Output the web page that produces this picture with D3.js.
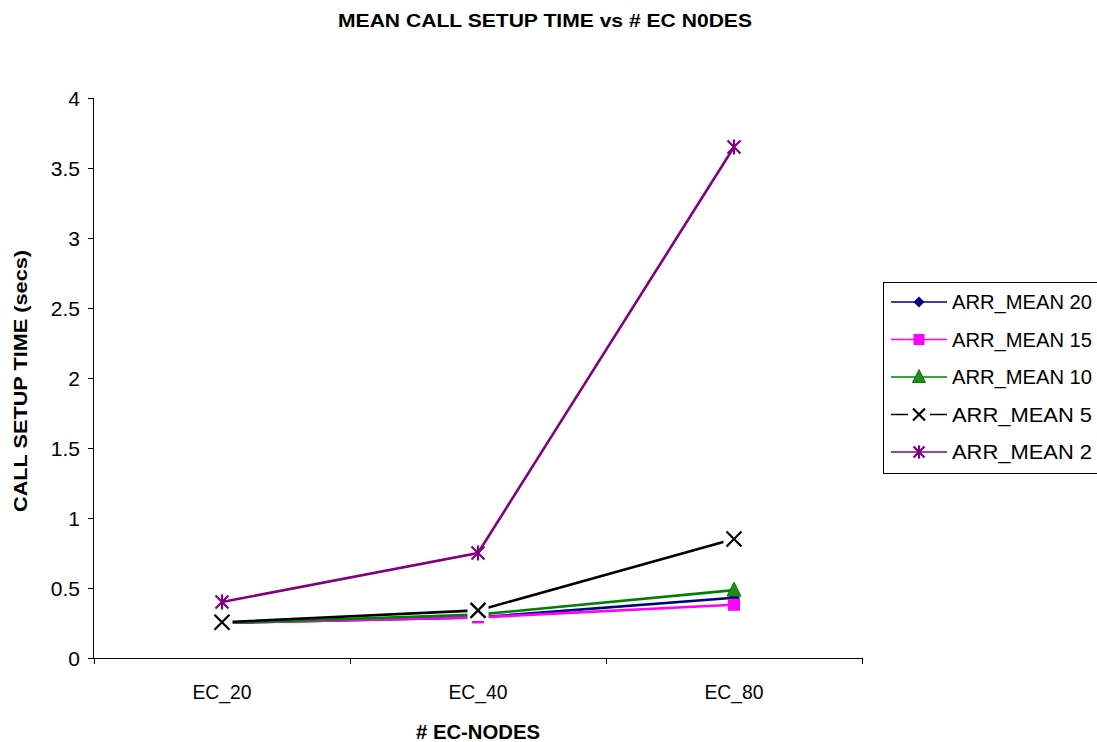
<!DOCTYPE html>
<html>
<head>
<meta charset="utf-8">
<script src="https://cdn.jsdelivr.net/npm/d3@7"></script>
<style>
  html, body { margin: 0; padding: 0; background: #fff; }
  svg { display: block; font-family: "Liberation Sans", Arial, sans-serif; }
</style>
</head>
<body>
<svg id="chart" width="1097" height="742"></svg>
<script>
// Node-count categories along the x axis
const categories = ["EC_20", "EC_40", "EC_80"];

// Mean call setup time (secs) for each arrival-rate series
const arrMean20 = [0.25, 0.29, 0.43];
const arrMean15 = [0.25, 0.29, 0.38];
const arrMean10 = [0.25, 0.31, 0.485];
const arrMean5  = [0.255, 0.34, 0.85];
const arrMean2  = [0.40, 0.75, 3.65];

const seriesNames  = ["ARR_MEAN 20", "ARR_MEAN 15", "ARR_MEAN 10", "ARR_MEAN 5", "ARR_MEAN 2"];
const seriesColors = ["#000080", "#ff00ff", "#008000", "#000000", "#800080"];
const seriesMarks  = ["diamond", "square", "triangle", "cross", "star"];
const yTicks = [0, 0.5, 1, 1.5, 2, 2.5, 3, 3.5, 4];

const series = [arrMean20, arrMean15, arrMean10, arrMean5, arrMean2].map((values, i) => ({
  name: seriesNames[i], color: seriesColors[i], mark: seriesMarks[i], values
}));

const svg = d3.select("#chart");
const plot = { left: 94, right: 862, top: 98, bottom: 658 };

const x = d3.scaleBand().domain(categories).range([plot.left, plot.right]);
const y = d3.scaleLinear().domain([0, 4]).range([plot.bottom, plot.top]);

// Title
svg.append("text")
  .attr("x", 545).attr("y", 27)
  .attr("text-anchor", "middle")
  .attr("font-size", 18.5).attr("font-weight", "bold")
  .attr("textLength", 414).attr("lengthAdjust", "spacingAndGlyphs")
  .text("MEAN CALL SETUP TIME vs # EC N0DES");

// Y axis
const yAxis = svg.append("g")
  .attr("transform", `translate(${plot.left},0)`)
  .call(d3.axisLeft(y).tickValues(yTicks).tickSize(6).tickPadding(8).tickFormat(d3.format("")));
yAxis.select(".domain").attr("stroke", "#000").attr("d", `M-0.5,${plot.top}V${plot.bottom}`);
yAxis.selectAll(".tick line").attr("stroke", "#000");
yAxis.selectAll(".tick text").attr("font-size", 21).attr("fill", "#000")
  .attr("dy", "0.36em")
  .attr("font-family", "Liberation Sans, Arial, sans-serif");

// X axis with tick marks on category boundaries
const xAxis = svg.append("g").attr("transform", `translate(0,${plot.bottom})`);
xAxis.append("line")
  .attr("x1", plot.left).attr("x2", plot.right)
  .attr("y1", 0.5).attr("y2", 0.5).attr("stroke", "#000");
const boundaries = categories.map(c => x(c)).concat([x(categories[categories.length - 1]) + x.bandwidth()]);
xAxis.selectAll("line.tk").data(boundaries).join("line").attr("class", "tk")
  .attr("x1", d => Math.round(d) + 0.5).attr("x2", d => Math.round(d) + 0.5)
  .attr("y1", 0).attr("y2", 6).attr("stroke", "#000");
xAxis.selectAll("text").data(categories).join("text")
  .attr("x", d => x(d) + x.bandwidth() / 2)
  .attr("y", 41)
  .attr("text-anchor", "middle")
  .attr("font-size", 21)
  .attr("textLength", 59).attr("lengthAdjust", "spacingAndGlyphs")
  .text(d => d);

// Axis titles
svg.append("text")
  .attr("x", 478).attr("y", 739)
  .attr("text-anchor", "middle")
  .attr("font-size", 20).attr("font-weight", "bold")
  .attr("textLength", 124).attr("lengthAdjust", "spacingAndGlyphs")
  .text("# EC-NODES");

svg.append("text")
  .attr("transform", `translate(27,381) rotate(-90)`)
  .attr("text-anchor", "middle")
  .attr("font-size", 19).attr("font-weight", "bold")
  .attr("textLength", 262).attr("lengthAdjust", "spacingAndGlyphs")
  .text("CALL SETUP TIME (secs)");

// Marker drawing
function drawMarker(g, type, color, s) {
  switch (type) {
    case "diamond":
      g.append("path").attr("d", `M0,${-s}L${s},0L0,${s}L${-s},0Z`).attr("fill", color);
      break;
    case "square":
      g.append("rect").attr("x", -s).attr("y", -s).attr("width", 2 * s).attr("height", 2 * s).attr("fill", color);
      break;
    case "triangle":
      g.append("path").attr("d", `M0,${-s - 2}L${s + 1},${s}L${-s - 1},${s}Z`)
        .attr("fill", "#228B22").attr("stroke", color).attr("stroke-width", 1);
      break;
    case "cross":
      g.append("rect").attr("x", -s - 3).attr("y", -s - 3).attr("width", 2 * s + 6).attr("height", 2 * s + 6).attr("fill", "#fff");
      g.append("path").attr("d", `M${-s},${-s}L${s},${s}M${-s},${s}L${s},${-s}`)
        .attr("stroke", color).attr("stroke-width", 2.2).attr("fill", "none");
      break;
    case "star":
      g.append("path")
        .attr("d", `M${-s},${-s}L${s},${s}M${-s},${s}L${s},${-s}M0,${-s - 1}L0,${s + 1}`)
        .attr("stroke", color).attr("stroke-width", 2.2).attr("fill", "none");
      break;
  }
}

const markerSize = { diamond: 6, square: 6, triangle: 6, cross: 7.5, star: 6.5 };

const cx = d => x(d) + x.bandwidth() / 2;
const line = d3.line().x(d => cx(d.cat)).y(d => y(d.v));

const linesG = svg.append("g");
series.forEach(s => {
  const pts = s.values.map((v, i) => ({ cat: categories[i], v }));
  linesG.append("path").datum(pts)
    .attr("d", line)
    .attr("fill", "none")
    .attr("stroke", s.color)
    .attr("stroke-width", 2.6);
  pts.forEach(p => {
    const g = linesG.append("g").attr("transform", `translate(${cx(p.cat)},${y(p.v)})`);
    drawMarker(g, s.mark, s.color, markerSize[s.mark]);
  });
});

// Legend
const legend = svg.append("g").attr("transform", "translate(883,282)");
legend.append("rect")
  .attr("x", 0.5).attr("y", 0.5).attr("width", 222).attr("height", 191)
  .attr("fill", "#fff").attr("stroke", "#000").attr("stroke-width", 1);
series.forEach((s, i) => {
  const row = legend.append("g").attr("transform", `translate(0,${20 + i * 37.5})`);
  if (s.mark === "cross") {
    row.append("line").attr("x1", 8).attr("x2", 25).attr("y1", 0).attr("y2", 0).attr("stroke", s.color).attr("stroke-width", 1.5);
    row.append("line").attr("x1", 47).attr("x2", 64).attr("y1", 0).attr("y2", 0).attr("stroke", s.color).attr("stroke-width", 1.5);
  } else {
    row.append("line").attr("x1", 8).attr("x2", 64).attr("y1", 0).attr("y2", 0).attr("stroke", s.color).attr("stroke-width", 1.5);
  }
  const m = row.append("g").attr("transform", "translate(36,0)");
  drawMarker(m, s.mark, s.color, s.mark === "cross" ? 6 : 5.5);
  if (s.mark === "cross") m.select("rect").remove();
  row.append("text").attr("x", 69).attr("y", 7)
    .attr("font-size", 20)
    .attr("textLength", 140).attr("lengthAdjust", "spacingAndGlyphs")
    .text(s.name);
});
</script>
</body>
</html>
